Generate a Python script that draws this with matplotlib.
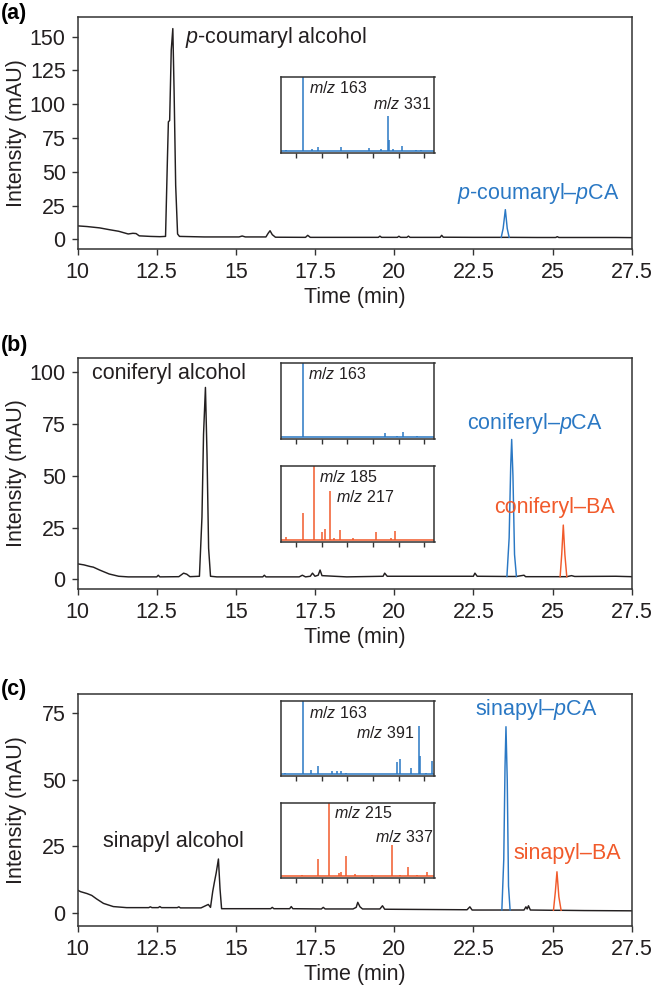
import matplotlib
matplotlib.use("Agg")
import matplotlib.pyplot as plt

plt.rcParams['font.family'] = ['Liberation Sans', 'DejaVu Sans']
plt.rcParams['mathtext.fontset'] = 'custom'
plt.rcParams['mathtext.rm'] = 'Liberation Sans'
plt.rcParams['mathtext.it'] = 'Liberation Sans:italic'

BLACK = '#231f20'
BLUE = '#2a78c4'
ORANGE = '#f15a2b'
SPINE = '#333333'

# ---------------- data ----------------
x_ticks = [10, 12.5, 15, 17.5, 20, 22.5, 25, 27.5]
x_ticklabels = ['10', '12.5', '15', '17.5', '20', '22.5', '25', '27.5']

# Panel (a)
a_t = [10.0, 10.3, 10.7, 11.0, 11.3, 11.6, 11.75, 11.85, 11.95, 12.05, 12.3, 12.6, 12.78,
       12.84, 12.87, 12.91, 12.96, 13.01, 13.05, 13.1, 13.16, 13.22, 14.0, 15.1, 15.2, 15.3,
       15.95, 16.02, 16.08, 16.15, 16.25, 17.2, 17.27, 17.35, 18.5, 19.5, 19.55, 19.6,
       20.1, 20.15, 20.2, 20.4, 20.45, 20.5, 21.45, 21.5, 21.55, 22.5, 23.38, 23.63,
       24.5, 25.1, 25.15, 25.2, 26.0, 27.0, 27.5]
a_y = [10.0, 9.5, 8.5, 7.2, 6.0, 4.0, 4.5, 4.3, 2.6, 2.5, 2.2, 2.0, 2.2,
       60, 87, 88, 140, 156, 110, 40, 4, 2.2, 1.8, 1.8, 2.5, 1.8,
       1.8, 4.5, 6.4, 3.5, 1.6, 1.5, 3.0, 1.5, 1.5, 1.5, 2.4, 1.5,
       1.5, 2.3, 1.5, 1.5, 2.4, 1.5, 1.5, 3.0, 1.6, 1.5, 1.5, 1.5,
       1.4, 1.4, 2.0, 1.4, 1.4, 1.4, 1.3]
a_pca_t = [23.38, 23.44, 23.51, 23.57, 23.63]
a_pca_y = [1.5, 8, 22, 8, 1.5]

a_ms_mz = [131, 163, 181, 194, 238, 293, 315, 330, 332, 340, 356, 383, 394]
a_ms_int = [1.0, 102, 2.8, 6.1, 5.6, 4.2, 2.3, 48, 14.5, 2.8, 7.5, 1.0, 1.0]

# Panel (b)
b_t = [10.0, 10.2, 10.4, 10.5, 10.7, 11.0, 11.3, 11.6, 12.5, 12.55, 12.6, 13.2, 13.35,
       13.45, 13.55, 13.85, 13.93, 13.98, 14.04, 14.09, 14.14, 14.2, 14.4, 15.85, 15.9,
       15.95, 17.0, 17.1, 17.2, 17.35, 17.42, 17.5, 17.6, 17.66, 17.72, 18.5, 19.65,
       19.7, 19.78, 22.5, 22.55, 22.62, 23.56, 23.86, 24.1, 24.15, 25.24, 25.45, 25.6,
       25.7, 27.0, 27.5]
b_y = [7.5, 7.0, 6.2, 5.9, 4.5, 2.6, 1.5, 1.2, 1.2, 2.0, 1.2, 1.3, 3.0,
       2.5, 1.3, 1.5, 30, 70, 92.6, 60, 15, 1.5, 1.2, 1.2, 2.0,
       1.2, 1.2, 2.0, 1.2, 1.5, 3.0, 1.5, 2.0, 4.5, 1.8, 1.2, 1.5,
       3.0, 1.5, 1.5, 3.0, 1.5, 1.4, 1.4, 2.0, 1.3, 1.3, 1.3, 1.8,
       1.4, 1.5, 1.3]
b_pca_t = [23.56, 23.63, 23.68, 23.71, 23.75, 23.80, 23.86]
b_pca_y = [1.4, 20, 55, 67.5, 50, 12, 1.4]
b_ba_t = [25.24, 25.29, 25.34, 25.39, 25.45]
b_ba_y = [1.3, 12, 26.2, 12, 1.3]

b_ms1_mz = [163, 194, 323, 347, 358, 386]
b_ms1_int = [102, 1.0, 6.0, 1.5, 7.5, 2.3]
b_ms2_mz = [131, 163, 185, 200, 206, 217, 224, 235, 261, 306, 336, 344]
b_ms2_int = [4, 37, 102, 10, 15, 66, 3, 14, 3, 10, 2, 12]

# Panel (c)
c_t = [10.0, 10.1, 10.3, 10.45, 10.6, 10.82, 11.13, 11.55, 12.25, 12.3, 12.35, 12.55,
       12.6, 12.65, 13.15, 13.2, 13.25, 13.9, 14.13, 14.2, 14.27, 14.32, 14.38, 14.45,
       14.5, 14.55, 15.0, 16.1, 16.15, 16.2, 16.7, 16.75, 16.8, 17.7, 17.76, 17.82, 18.7,
       18.8, 18.85, 18.92, 19.0, 19.55, 19.63, 19.7, 22.3, 22.39, 22.46, 23.40, 23.66,
       24.1, 24.16, 24.2, 24.24, 24.3, 25.03, 25.27, 26.0, 27.5]
c_y = [8.5, 7.9, 7.2, 6.5, 5.2, 3.5, 2.3, 1.9, 1.9, 2.2, 1.9, 1.9,
       2.3, 1.9, 1.9, 2.2, 1.8, 1.8, 3.1, 2.0, 8, 11.3, 15, 20.2,
       9, 1.5, 1.5, 1.5, 2.0, 1.5, 1.5, 2.3, 1.5, 1.4, 2.0, 1.4, 1.4,
       2.0, 3.9, 2.2, 1.4, 1.4, 2.6, 1.3, 1.1, 2.2, 1.0, 1.0, 1.0,
       1.0, 2.2, 1.4, 2.6, 1.0, 0.9, 0.9, 0.8, 0.7]
c_pca_t = [23.40, 23.46, 23.50, 23.53, 23.57, 23.61, 23.66]
c_pca_y = [1.0, 20, 55, 70, 50, 10, 1.0]
c_ba_t = [25.03, 25.09, 25.14, 25.20, 25.27]
c_ba_y = [0.9, 8, 15.4, 6, 0.9]

c_ms1_mz = [129, 163, 180, 194, 220, 230, 238, 248, 347, 353, 375, 389, 391, 403, 415]
c_ms1_int = [1.4, 102, 5.5, 11, 4.5, 4.7, 4.7, 1.9, 17, 21, 8, 66, 25, 1.9, 17.5]
c_ms2_mz = [161, 194, 215, 233, 237, 248, 266, 298, 337, 353, 368, 386, 405]
c_ms2_int = [1.8, 23, 102, 4, 5, 27, 3, 2, 42, 2, 13, 1, 5.5]

ms_ticks = [150, 200, 250, 300, 350, 400]

# ---------------- figure ----------------
W, H = 654, 991
fig = plt.figure(figsize=(W / 100, H / 100), dpi=100)


def box(x0, y0, x1, y1):
    return [x0 / W, 1 - y1 / H, (x1 - x0) / W, (y1 - y0) / H]


def ftext(x, y, s, **kw):
    fig.text(x / W, 1 - y / H, s, **kw)


FS = 15.5


def main_axes(rect, ylim, yticks, traces):
    ax = fig.add_axes(rect)
    for t, y, c in traces:
        ax.plot(t, y, color=c, lw=1.05, solid_joinstyle='round')
    ax.set_xlim(10, 27.5)
    ax.set_ylim(*ylim)
    ax.set_xticks(x_ticks)
    ax.set_xticklabels(x_ticklabels)
    ax.set_yticks(yticks)
    ax.tick_params(direction='out', length=4.5, width=1.0, color=SPINE,
                   labelsize=FS, pad=4, labelcolor='#231f20')
    ax.tick_params(axis='x', pad=5)
    for s in ax.spines.values():
        s.set_color(SPINE)
        s.set_linewidth(1.1)
    ax.set_xlabel('Time (min)', fontsize=FS, color='#231f20')
    ax.set_ylabel('Intensity (mAU)', fontsize=FS, color='#231f20')
    ax.yaxis.set_label_coords(-0.092, 0.5)
    ax.xaxis.set_label_coords(0.5, -0.166)
    return ax


def ms_axes(rect, mz, inten, color):
    ax = fig.add_axes(rect)
    ax.axhline(0, color=color, lw=1.1)
    ax.vlines(mz, 0, inten, color=color, lw=1.1)
    ax.set_xlim(120, 420)
    ax.set_ylim(-2.5, 100)
    ax.set_xticks(ms_ticks)
    ax.set_yticks([])
    ax.tick_params(axis='x', direction='out', length=3.5, width=1.0, color=SPINE,
                   labelbottom=False)
    for s in ax.spines.values():
        s.set_color(SPINE)
        s.set_linewidth(1.1)
    return ax


MSFS = 11.5

# ---- panel (a)
main_axes(box(77.5, 16.7, 631.7, 248.7), (-6.9, 164.8), [0, 25, 50, 75, 100, 125, 150],
          [(a_t, a_y, BLACK), (a_pca_t, a_pca_y, BLUE)])
ms_axes(box(280.5, 77, 434.5, 153), a_ms_mz, a_ms_int, BLUE)
ftext(1, 14, '(a)', fontsize=FS, fontweight='bold', va='center', ha='left')
ftext(185.4, 37, r'$\it{p}$-coumaryl alcohol', fontsize=FS, va='center', ha='left', color=BLACK)
ftext(457, 193, r'$\it{p}$-coumaryl–$\it{p}$CA', fontsize=FS, va='center', ha='left', color=BLUE)
ftext(309.3, 88.3, r'$\it{m/z}$ 163', fontsize=MSFS, va='center', ha='left', color=BLACK)
ftext(431, 104, r'$\it{m/z}$ 331', fontsize=MSFS, va='center', ha='right', color=BLACK)

# ---- panel (b)
main_axes(box(77.5, 358, 631.7, 588.7), (-4.5, 106.8), [0, 25, 50, 75, 100],
          [(b_t, b_y, BLACK), (b_pca_t, b_pca_y, BLUE), (b_ba_t, b_ba_y, ORANGE)])
ms_axes(box(280.5, 363.3, 434.5, 439.3), b_ms1_mz, b_ms1_int, BLUE)
ms_axes(box(280.5, 466, 434.5, 541.7), b_ms2_mz, b_ms2_int, ORANGE)
ftext(1, 345, '(b)', fontsize=FS, fontweight='bold', va='center', ha='left')
ftext(91.7, 373, 'coniferyl alcohol', fontsize=FS, va='center', ha='left', color=BLACK)
ftext(467.5, 423.5, r'coniferyl–$\it{p}$CA', fontsize=FS, va='center', ha='left', color=BLUE)
ftext(493.7, 508, 'coniferyl–BA', fontsize=FS, va='center', ha='left', color=ORANGE)
ftext(308.5, 374.3, r'$\it{m/z}$ 163', fontsize=MSFS, va='center', ha='left', color=BLACK)
ftext(319.3, 476.7, r'$\it{m/z}$ 185', fontsize=MSFS, va='center', ha='left', color=BLACK)
ftext(336, 497.3, r'$\it{m/z}$ 217', fontsize=MSFS, va='center', ha='left', color=BLACK)

# ---- panel (c)
main_axes(box(77.5, 694.3, 631.7, 925.7), (-4.9, 82.2), [0, 25, 50, 75],
          [(c_t, c_y, BLACK), (c_pca_t, c_pca_y, BLUE), (c_ba_t, c_ba_y, ORANGE)])
ms_axes(box(280.5, 700.7, 434.5, 776), c_ms1_mz, c_ms1_int, BLUE)
ms_axes(box(280.5, 802.7, 434.5, 878), c_ms2_mz, c_ms2_int, ORANGE)
ftext(1, 690, '(c)', fontsize=FS, fontweight='bold', va='center', ha='left')
ftext(102.7, 842, 'sinapyl alcohol', fontsize=FS, va='center', ha='left', color=BLACK)
ftext(475, 710, r'sinapyl–$\it{p}$CA', fontsize=FS, va='center', ha='left', color=BLUE)
ftext(513.3, 853.3, 'sinapyl–BA', fontsize=FS, va='center', ha='left', color=ORANGE)
ftext(309.3, 712.7, r'$\it{m/z}$ 163', fontsize=MSFS, va='center', ha='left', color=BLACK)
ftext(414.3, 732.7, r'$\it{m/z}$ 391', fontsize=MSFS, va='center', ha='right', color=BLACK)
ftext(334, 813.3, r'$\it{m/z}$ 215', fontsize=MSFS, va='center', ha='left', color=BLACK)
ftext(432.7, 836.7, r'$\it{m/z}$ 337', fontsize=MSFS, va='center', ha='right', color=BLACK)

fig.savefig('out.png', dpi=100)
